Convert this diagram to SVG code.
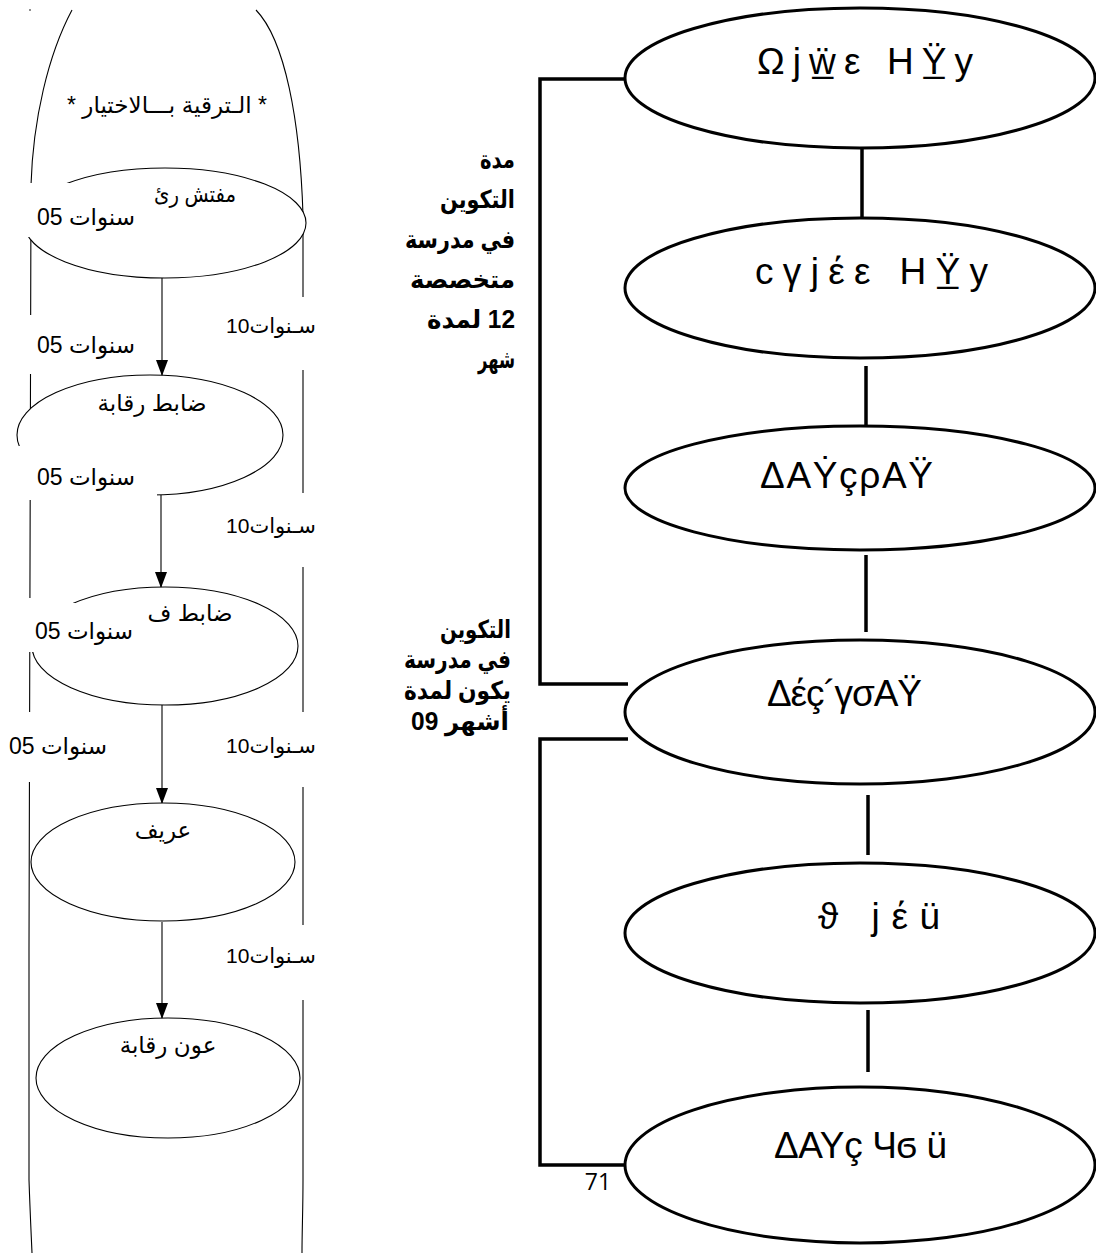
<svg xmlns="http://www.w3.org/2000/svg" width="1096" height="1253" viewBox="0 0 1096 1253">
<style>
.thin{fill:none;stroke:#000;stroke-width:1.1}
.node{fill:#fff;stroke:#000;stroke-width:1.1}
.big{fill:#fff;stroke:#000;stroke-width:3}
.con{fill:none;stroke:#000;stroke-width:3.5}
.arr{fill:none;stroke:#000;stroke-width:1.1}
.t{font-family:"Liberation Sans","DejaVu Sans",sans-serif;font-size:23px;fill:#000}
.y{font-family:"Liberation Sans","DejaVu Sans",sans-serif;font-size:21px;fill:#000}
.g{font-family:"Liberation Sans","DejaVu Sans",sans-serif;font-size:37px;fill:#000}
.b{font-family:"Liberation Sans","DejaVu Sans",sans-serif;font-size:25px;font-weight:bold;fill:#000}
.n{font-family:"Open Sans","Liberation Sans",sans-serif;font-size:23px;fill:#000}
.bg{fill:#fff}
</style>
<defs>
<marker id="ah" markerWidth="16" markerHeight="12" refX="16" refY="6" orient="auto" markerUnits="userSpaceOnUse" viewBox="0 0 16 12">
<path d="M0,0 L16,6 L0,12 Z" fill="#000"/>
</marker>
</defs>
<g id="frame">
<path class="thin" d="M72,10 C48,55 33,120 31,185 L29,950 L29,1180 C30,1210 31,1230 32,1253"/>
<path class="thin" d="M256,10 C285,40 300,120 303,215 L303,1180 C303,1210 302,1230 302,1253"/>
<circle cx="30" cy="10" r="0.8" fill="#000"/>
<rect class="bg" x="20" y="315" width="14" height="59"/>
<rect class="bg" x="296" y="297" width="14" height="73"/>
<rect class="bg" x="296" y="493" width="14" height="74"/>
<rect class="bg" x="296" y="712" width="14" height="75"/>
<rect class="bg" x="296" y="925" width="14" height="75"/>
<rect class="bg" x="20" y="598" width="14" height="54"/>
<rect class="bg" x="20" y="712" width="14" height="70"/>
</g>
<g id="connectors">
<line class="arr" x1="162" y1="278" x2="162" y2="376" marker-end="url(#ah)"/>
<line class="arr" x1="161" y1="495" x2="161" y2="588" marker-end="url(#ah)"/>
<line class="arr" x1="162" y1="705" x2="162" y2="804" marker-end="url(#ah)"/>
<line class="arr" x1="162" y1="922" x2="162" y2="1019" marker-end="url(#ah)"/>
<line class="con" x1="862" y1="148" x2="862" y2="218"/>
<line class="con" x1="866" y1="366" x2="866" y2="425"/>
<line class="con" x1="866" y1="555" x2="866" y2="632"/>
<line class="con" x1="868" y1="795" x2="868" y2="855"/>
<line class="con" x1="868" y1="1010" x2="868" y2="1072"/>
<polyline class="con" points="625,79 540,79 540,684 628,684"/>
<polyline class="con" points="628,739 540,739 540,1165 625,1165"/>
</g>
<g id="left-title">
<text class="t" x="167" y="113" text-anchor="middle">* الـترقية بـــالاختيار *</text>
</g>
<g id="n-mofatesh">
<ellipse class="node" cx="165" cy="223" rx="141" ry="55"/>
<text class="t" x="195" y="202" text-anchor="middle" textLength="82" lengthAdjust="spacingAndGlyphs">مفتش رئ</text>
</g>
<g id="n-dabet-raqaba">
<ellipse class="node" cx="150" cy="435" rx="133" ry="60"/>
<text class="t" x="152" y="411" text-anchor="middle">ضابط رقابة</text>
</g>
<g id="n-dabet-f">
<ellipse class="node" cx="165" cy="646" rx="133" ry="59"/>
<text class="t" x="190" y="621" text-anchor="middle">ضابط ف</text>
</g>
<g id="n-arif">
<ellipse class="node" cx="163" cy="862" rx="132" ry="59"/>
<text class="t" x="163" y="838" text-anchor="middle">عريف</text>
</g>
<g id="n-awn">
<ellipse class="node" cx="168" cy="1078" rx="132" ry="60"/>
<text class="t" x="168" y="1053" text-anchor="middle">عون رقابة</text>
</g>
<g id="left-labels">
<rect class="bg" x="20" y="183" width="120" height="54"/>
<text class="t" x="86" y="225" text-anchor="middle">سنوات 05</text>
<text class="t" x="86" y="353" text-anchor="middle">سنوات 05</text>
<rect class="bg" x="14" y="446" width="143" height="54"/>
<text class="t" x="86" y="485" text-anchor="middle">سنوات 05</text>
<rect class="bg" x="20" y="603" width="120" height="49"/>
<text class="t" x="84" y="639" text-anchor="middle">سنوات 05</text>
<text class="t" x="58" y="754" text-anchor="middle">سنوات 05</text>
<text class="y" x="271" y="333" text-anchor="middle">10سـنوات</text>
<text class="y" x="271" y="533" text-anchor="middle">10سـنوات</text>
<text class="y" x="271" y="753" text-anchor="middle">10سـنوات</text>
<text class="y" x="271" y="963" text-anchor="middle">10سـنوات</text>
</g>
<g id="r-1">
<ellipse class="big" cx="860" cy="78" rx="235" ry="70"/>
<text class="g" x="757" y="74" textLength="216" lengthAdjust="spacing">Ωjẅ̲ε HŸ̲y</text>
</g>
<g id="r-2">
<ellipse class="big" cx="860" cy="288" rx="235" ry="70"/>
<text class="g" x="755" y="284" textLength="233" lengthAdjust="spacing">cγjέε HŸ̲y</text>
</g>
<g id="r-3">
<ellipse class="big" cx="860" cy="488" rx="235" ry="62"/>
<text class="g" x="760" y="488" textLength="173" lengthAdjust="spacing">ΔAẎçρAŸ</text>
</g>
<g id="r-4">
<ellipse class="big" cx="860" cy="712" rx="235" ry="72"/>
<text class="g" x="767" y="706" textLength="155" lengthAdjust="spacing">Δέç´γσAŸ</text>
</g>
<g id="r-5">
<ellipse class="big" cx="860" cy="933" rx="235" ry="70"/>
<text class="g" x="818" y="929" textLength="122" lengthAdjust="spacing">ϑ jέü</text>
</g>
<g id="r-6">
<ellipse class="big" cx="860" cy="1165" rx="235" ry="78"/>
<text class="g" x="774" y="1158" textLength="173" lengthAdjust="spacing">ΔAYç Чϭ ü</text>
</g>
<g id="labels-bold">
<text class="b" x="515" y="168" text-anchor="end" textLength="35" lengthAdjust="spacingAndGlyphs">مدة</text>
<text class="b" x="515" y="208" text-anchor="end" textLength="75" lengthAdjust="spacingAndGlyphs">التكوين</text>
<text class="b" x="515" y="248" text-anchor="end" textLength="110" lengthAdjust="spacingAndGlyphs">في مدرسة</text>
<text class="b" x="515" y="288" text-anchor="end" textLength="105" lengthAdjust="spacingAndGlyphs">متخصصة</text>
<text class="b" x="515" y="328" text-anchor="end" textLength="88" lengthAdjust="spacingAndGlyphs">لمدة&#x200E; 12</text>
<text class="b" x="515" y="368" text-anchor="end" textLength="37" lengthAdjust="spacingAndGlyphs">شهر</text>
<text class="b" x="511" y="638" text-anchor="end" textLength="71" lengthAdjust="spacingAndGlyphs">التكوين</text>
<text class="b" x="511" y="668" text-anchor="end" textLength="107" lengthAdjust="spacingAndGlyphs">في مدرسة</text>
<text class="b" x="511" y="699" text-anchor="end" textLength="107" lengthAdjust="spacingAndGlyphs">يكون لمدة</text>
<text class="b" x="509" y="730" text-anchor="end" textLength="98" lengthAdjust="spacingAndGlyphs">09 أشهر</text>
</g>
<g id="page-number">
<text class="n" x="598" y="1190" text-anchor="middle">71</text>
</g>
</svg>
